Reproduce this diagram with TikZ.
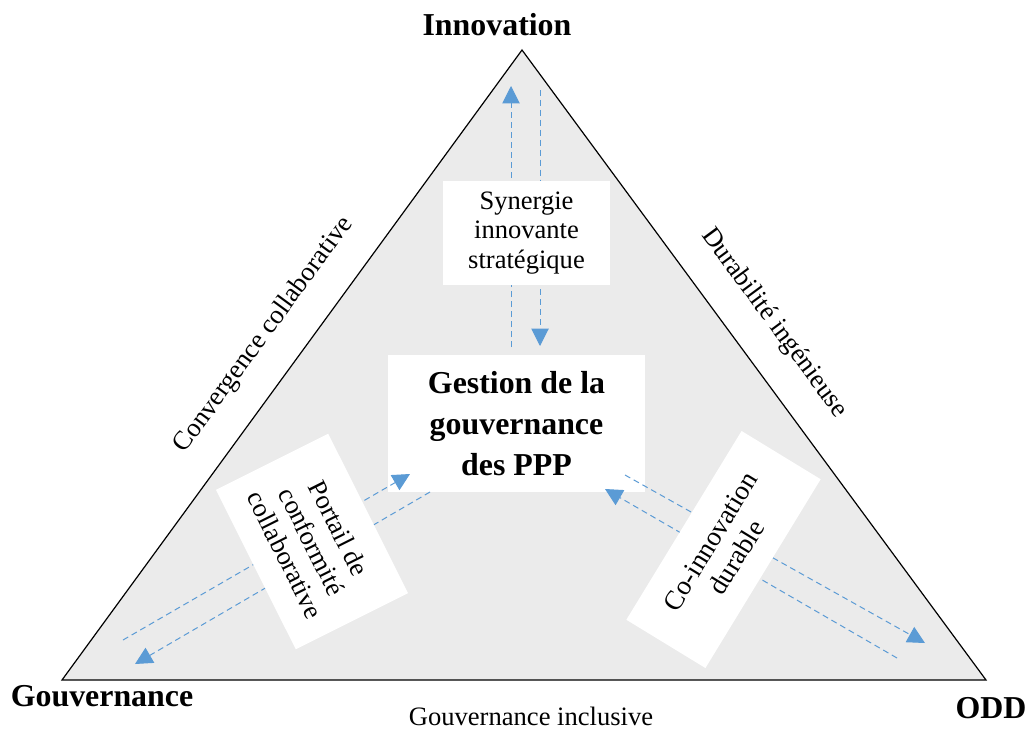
\documentclass[tikz,border=0pt]{standalone}
\usepackage{fontspec}
\setmainfont{Liberation Serif}
\usepackage{xcolor}
\usepackage{tikz}
\usetikzlibrary{arrows.meta,calc,positioning}

\definecolor{trigray}{RGB}{235,235,235}
\definecolor{flowblue}{RGB}{91,155,213}

\begin{document}
\begin{tikzpicture}[x=0.02646cm,y=-0.02646cm]

\tikzstyle{corner} = [font=\fontsize{24}{28}\selectfont\bfseries, inner sep=0pt]
\tikzstyle{sidelabel} = [font=\fontsize{20}{24}\selectfont, inner sep=0pt]
\tikzstyle{whitebox} = [fill=white, align=center, inner sep=0pt, font=\fontsize{20}{22.5}\selectfont]
\tikzstyle{flow} = [flowblue, line width=0.75pt, dash pattern=on 4.5pt off 3pt, -{Triangle[length=13pt,width=13pt]}]

\useasboundingbox (0,0) rectangle (1033,729);

% the triangle
\coordinate (apex) at (522,50);
\coordinate (vgouv) at (62,680);
\coordinate (vodd) at (986,680);
\draw [fill=trigray, line width=0.9pt] (apex) -- (vgouv) -- (vodd) -- cycle;

\node [corner] (innov) at (497,25) {Innovation};
\node [corner] (gouv) at (102,696) {Gouvernance};
\node [corner] (odd) at (991,708) {ODD};

\node [sidelabel] (inclus) at (531,716) {Gouvernance inclusive};
\node [sidelabel, rotate=53.8] (converg) at (264,335) {Convergence collaborative};
\node [sidelabel, rotate=-53.6] (durab) at (774,323) {Durabilité ingénieuse};

% centre
\node [whitebox, minimum width=192.75pt, minimum height=102.75pt,
       font=\fontsize{24}{30.75}\selectfont\bfseries] (ppp) at (516.5,423.5)
       {Gestion de la\\gouvernance\\des PPP};

% flows
\coordinate (up1) at (511,347);   \coordinate (up2) at (511,86);
\coordinate (dn1) at (540,90);    \coordinate (dn2) at (540,346);
\coordinate (lu1) at (123,640);   \coordinate (lu2) at (410,474);
\coordinate (ld1) at (430,492);   \coordinate (ld2) at (135,664);
\coordinate (rd1) at (625,475);   \coordinate (rd2) at (925,643);
\coordinate (ru1) at (897,658);   \coordinate (ru2) at (605,489);

\draw [flow] (up1) -- (up2);
\draw [flow] (dn1) -- (dn2);
\draw [flow] (lu1) -- (lu2);
\draw [flow] (ld1) -- (ld2);
\draw [flow] (rd1) -- (rd2);
\draw [flow] (ru1) -- (ru2);

% boxes on the flows
\node [whitebox, minimum width=125.25pt, minimum height=78pt] (syn) at (526.5,233)
      {Synergie\\innovante\\stratégique};
\node [whitebox, rotate=-63.4, minimum width=134.25pt, minimum height=94.5pt] (portail) at (312,541.5)
      {Portail de\\conformité\\collaborative};
\node [whitebox, rotate=58.6, minimum width=166.5pt, minimum height=69.75pt,
       font=\fontsize{20.5}{23}\selectfont] (coinno) at (723.5,549.5)
      {Co-innovation\\durable};

\end{tikzpicture}
\end{document}
